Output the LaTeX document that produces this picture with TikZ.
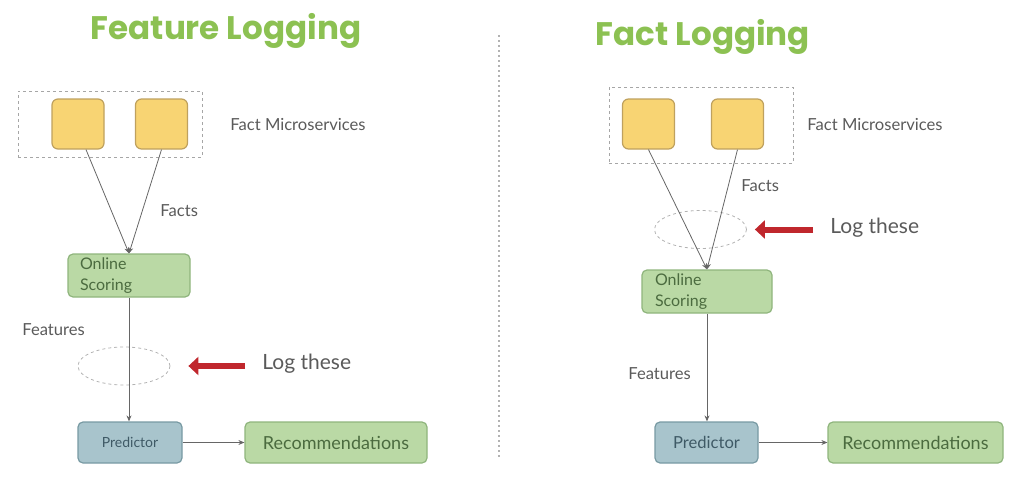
\documentclass[tikz,border=0pt]{standalone}
\usepackage{fontspec}
\setmainfont{Lato}
\newfontfamily\titlefont{Poppins}
\usetikzlibrary{arrows.meta,shapes.geometric}

\definecolor{titlegreen}{HTML}{8CC152}
\definecolor{labelgray}{HTML}{5A5A5A}
\definecolor{factfill}{HTML}{F8D473}
\definecolor{factline}{HTML}{BFA15E}
\definecolor{scorefill}{HTML}{BAD9A5}
\definecolor{scoreline}{HTML}{8FB57D}
\definecolor{scoretext}{HTML}{4B6B3F}
\definecolor{predfill}{HTML}{A8C4CC}
\definecolor{predline}{HTML}{789AA3}
\definecolor{predtext}{HTML}{3F5A66}
\definecolor{logred}{HTML}{C0272D}

\tikzset{
  title/.style={font=\titlefont\bfseries\fontsize{16.3}{19}\selectfont, text=titlegreen},
  lbl/.style={font=\fontsize{8.3}{10}\selectfont, text=labelgray, inner sep=0pt, anchor=west},
  loglbl/.style={font=\fontsize{10.5}{12}\selectfont, text=labelgray, inner sep=0pt, anchor=west},
  group/.style={draw=gray!70, dash pattern=on 1.5pt off 1.5pt, line width=0.5pt},
  fact/.style={draw=factline, fill=factfill, rounded corners=3pt, line width=0.6pt,
    minimum width=26pt, minimum height=25pt},
  score/.style={draw=scoreline, fill=scorefill, rounded corners=2.5pt, line width=0.6pt,
    text=scoretext, font=\fontsize{8}{10.5}\selectfont, align=left,
    text width=49pt, inner xsep=6pt, inner ysep=0pt, minimum height=21.5pt},
  pred/.style={draw=predline, fill=predfill, rounded corners=2.5pt, line width=0.6pt,
    text=predtext, minimum width=52pt, minimum height=20.5pt},
  recs/.style={draw=scoreline, fill=scorefill, rounded corners=2.5pt, line width=0.6pt,
    text=scoretext, font=\fontsize{9}{11}\selectfont, minimum height=20.5pt},
  logring/.style={ellipse, draw=gray!60, dash pattern=on 1.5pt off 1.5pt,
    minimum width=46pt, minimum height=19pt, inner sep=0pt},
  conn/.style={draw=gray!80!black, line width=0.4pt, -{Stealth[length=3pt,width=2.5pt]}},
  logarrow/.style={draw=logred, line width=3pt, -{Triangle[length=5pt 0,width=9pt 0]}},
}

\begin{document}
\begin{tikzpicture}[x=0.5pt,y=-0.5pt]
\useasboundingbox (0,0) rectangle (1024,482);

% feature logging
\node[title] (t1) at (226,31) {Feature Logging};
\node[group, minimum width=92pt, minimum height=33pt] (g1) at (110,124) {};
\node[fact] (fa1) at (78,124) {};
\node[fact] (fb1) at (161.5,124) {};
\node[lbl] (ms1) at (230,125) {Fact Microservices};
\node[score] (os1) at (129,275.5) {Online\\Scoring};
\node[lbl] (fc1) at (160,211) {Facts};
\node[lbl] (ft1) at (22,330) {Features};
\node[logring] (e1) at (124,366) {};
\node[loglbl] (lt1) at (262,364) {Log these};
\node[pred, font=\fontsize{7}{9}\selectfont] (pr1) at (130,442.5) {Predictor};
\node[recs, minimum width=91pt] (rc1) at (336,442.5) {Recommendations};

\draw[conn] ([xshift=4pt]fa1.south) -- (os1.north);
\draw[conn] (fb1.south) -- (os1.north);
\draw[conn] (os1.south) -- (os1.south |- pr1.north);
\draw[conn] (pr1.east) -- (rc1.west);
\draw[logarrow] ([xshift=-8.5pt]lt1.west |- e1.east) -- ([xshift=9pt]e1.east);

% separator
\draw[gray!60, dash pattern=on 1pt off 1.5pt, line width=0.6pt] (499,35) -- (499,460);

% fact logging
\node[title] (t2) at (703,37) {Fact Logging};
\node[group, minimum width=92pt, minimum height=38pt] (g2) at (701,125) {};
\node[fact] (fa2) at (648.5,124) {};
\node[fact] (fb2) at (737.5,124) {};
\node[lbl] (ms2) at (807,125) {Fact Microservices};
\node[lbl] (fc2) at (741,186) {Facts};
\node[logring] (e2) at (700.5,229.5) {};
\node[loglbl] (lt2) at (830,228) {Log these};
\node[score, text width=52pt, inner xsep=6.5pt] (os2) at (707,291.5) {Online\\Scoring};
\node[lbl] (ft2) at (628,374) {Features};
\node[pred, minimum width=51.5pt, font=\fontsize{8.3}{10}\selectfont] (pr2) at (706.5,442.5) {Predictor};
\node[recs, minimum width=87.5pt] (rc2) at (915.5,442.5) {Recommendations};

\draw[conn] (fa2.south) -- (os2.north);
\draw[conn] (fb2.south) -- (os2.north);
\draw[conn] (os2.south) -- (os2.south |- pr2.north);
\draw[conn] (pr2.east) -- (rc2.west);
\draw[logarrow] ([xshift=-8.5pt]lt2.west |- e2.east) -- ([xshift=4pt]e2.east);
\end{tikzpicture}
\end{document}
